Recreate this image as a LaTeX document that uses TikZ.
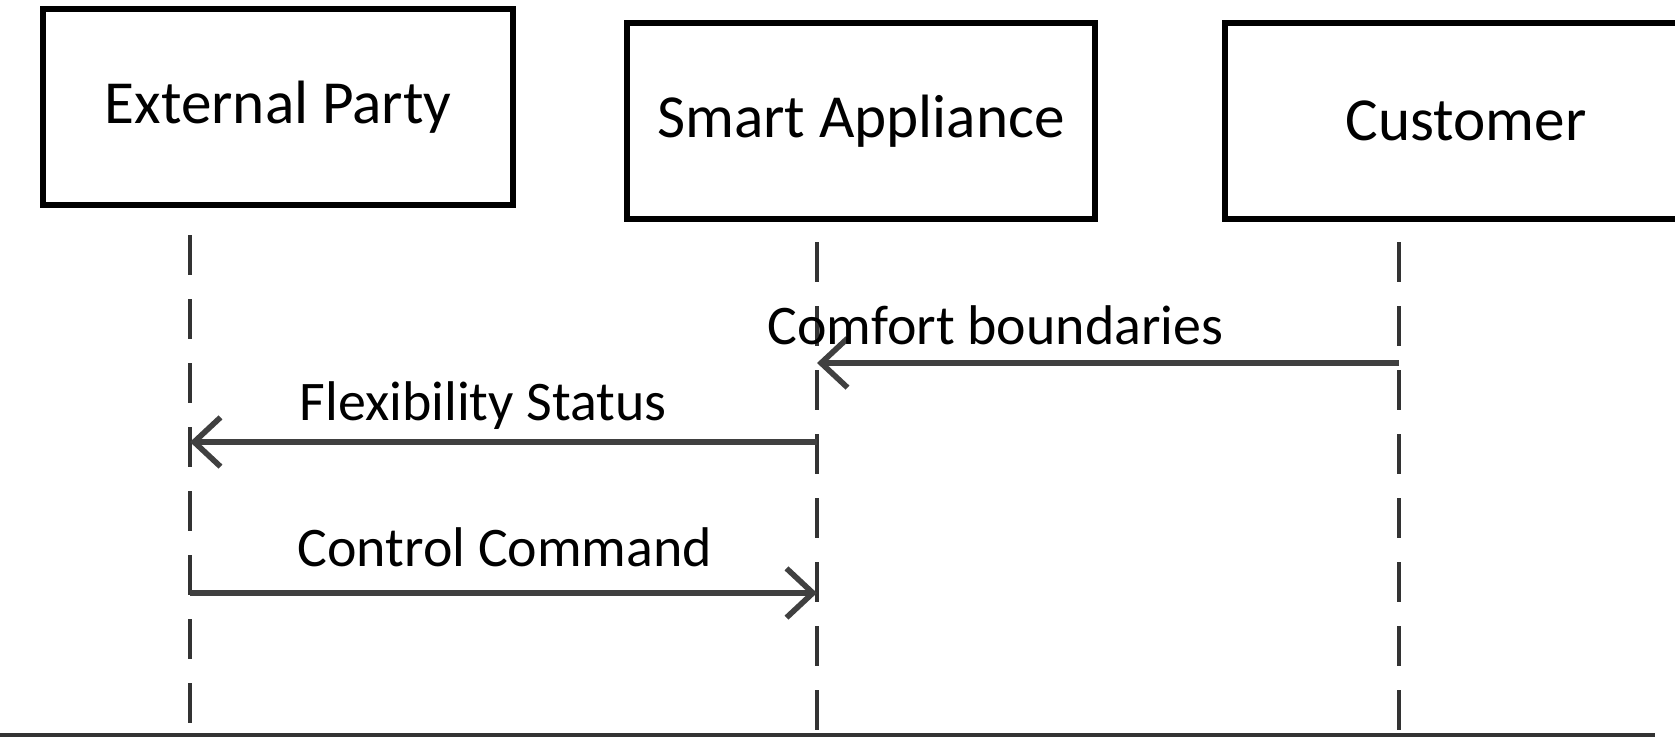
\documentclass[tikz,border=0pt]{standalone}
\usepackage{fontspec}
\setmainfont{Carlito}
\usetikzlibrary{arrows.meta}
\begin{document}
\begin{tikzpicture}[x=0.01cm,y=-0.01cm,font=\fontsize{17.4}{20}\selectfont,
	actor/.style={draw,line width=1.8pt,inner sep=0pt,minimum height=1.96cm},
	life/.style={line width=1.1pt,draw=black!80,dash pattern=on 11.5pt off 6.7pt},
	msg/.style={line width=1.6pt,draw=black!75,-{Straight Barb[length=7.5pt,width=14pt]}},
	lbl/.style={font=\fontsize{15.9}{18}\selectfont,anchor=base west,inner sep=0pt}]
	\useasboundingbox (0,0) rectangle (1675,745);
	\node[actor,minimum width=4.7cm] (ext) at (278,107) {External Party};
	\node[actor,minimum width=4.68cm] (app) at (861,121) {Smart Appliance};
	\node[actor,minimum width=4.82cm] (cus) at (1466,121) {Customer};
	\path 
	(190,235) coordinate (E1) (190,725) coordinate (E2) (817,242) coordinate (S1) (817,732) coordinate (S2) (1399,242) coordinate (C1) (1399,732) coordinate (C2)
	(1399,363) coordinate (C3) (817,363) coordinate (S3) (817,442) coordinate (S4) (190,442) coordinate (E4) (190,593) coordinate (E5) (817,593) coordinate (S5)
	(0,735) coordinate (L) (1655,735) coordinate (R);
	\draw[life] (E1)--(E2) (S1)--(S2) (C1)--(C2);
	\draw[line width=1.1pt,black!80] (L)--(R);
	\draw[msg] (C3)--(S3);
	\draw[msg] (S4)--(E4);
	\draw[msg] (E5)--(S5);
	\foreach \p/\t in {{767,344}/Comfort boundaries,{299,420}/Flexibility Status,{297,566}/Control Command}
	\node[lbl] at (\p) {\t};
\end{tikzpicture}
\end{document}
